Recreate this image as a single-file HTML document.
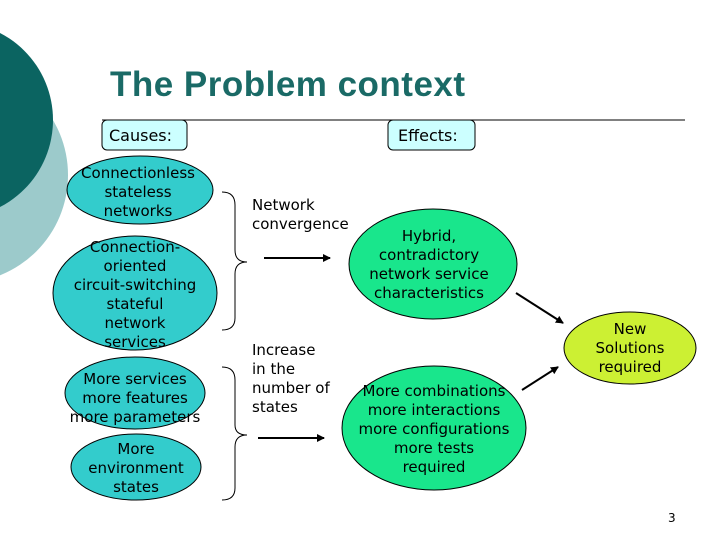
<!DOCTYPE html>
<html><head><style>
body{margin:0;width:720px;height:540px;overflow:hidden;background:#fff;}
text{font-family:"DejaVu Sans",sans-serif;font-size:15px;fill:#000;}
</style></head><body>
<svg width="720" height="540" viewBox="0 0 720 540">
<defs><marker id="a" markerWidth="8" markerHeight="8" refX="7" refY="4" orient="auto" markerUnits="userSpaceOnUse"><path d="M0,0 L8,4 L0,8 z" fill="#000"/></marker></defs>
<circle cx="-40" cy="175" r="108" fill="#9ccacb"/>
<circle cx="-45" cy="120" r="98" fill="#0b6461"/>
<text x="110" y="96" style="font-family:'Liberation Sans',sans-serif;font-size:35px;font-weight:bold;fill:#1a6a66" textLength="355">The Problem context</text>
<line x1="102" y1="120" x2="685" y2="120" stroke="#000" stroke-width="1"/>
<rect x="102" y="120" width="85" height="30" rx="5" fill="#ccffff" stroke="#000"/>
<text x="109" y="141" style="font-size:16px">Causes:</text>
<rect x="388" y="120" width="87" height="30" rx="5" fill="#ccffff" stroke="#000"/>
<text x="398" y="141" style="font-size:16px">Effects:</text>
<g fill="#33cccc" stroke="#000">
<ellipse cx="140" cy="190" rx="73" ry="34"/>
<ellipse cx="135" cy="293" rx="82" ry="57"/>
<ellipse cx="135" cy="393" rx="70" ry="36"/>
<ellipse cx="136" cy="467" rx="65" ry="33"/>
</g>
<g text-anchor="middle">
<text x="138" y="178">Connectionless</text><text x="138" y="197">stateless</text><text x="138" y="216">networks</text>
<text x="135" y="252">Connection-</text><text x="135" y="271">oriented</text><text x="135" y="290">circuit-switching</text><text x="135" y="309">stateful</text><text x="135" y="328">network</text><text x="135" y="347">services</text>
<text x="135" y="384">More services</text><text x="135" y="403">more features</text><text x="135" y="422">more parameters</text>
<text x="136" y="454">More</text><text x="136" y="473">environment</text><text x="136" y="492">states</text>
</g>
<g fill="none" stroke="#000" stroke-width="1">
<path d="M222,192 Q235,192 235,205 L235,250 Q235,262 247,262 Q235,262 235,274 L235,318 Q235,330 222,330"/>
<path d="M222,367 Q235,367 235,380 L235,425 Q235,435 247,435 Q235,435 235,447 L235,488 Q235,500 222,500"/>
</g>
<text x="252" y="210">Network</text><text x="252" y="229">convergence</text>
<text x="252" y="355">Increase</text><text x="252" y="374">in the</text><text x="252" y="393">number of</text><text x="252" y="412">states</text>
<g stroke="#000" stroke-width="2" marker-end="url(#a)">
<line x1="264" y1="258" x2="330" y2="258"/>
<line x1="258" y1="438" x2="324" y2="438"/>
<line x1="516" y1="293" x2="563" y2="323"/>
<line x1="522" y1="390" x2="558" y2="367"/>
</g>
<ellipse cx="433" cy="264" rx="84" ry="55" fill="#19e68c" stroke="#000"/>
<ellipse cx="434" cy="428" rx="92" ry="62" fill="#19e68c" stroke="#000"/>
<ellipse cx="630" cy="348" rx="66" ry="36" fill="#ccf033" stroke="#000"/>
<g text-anchor="middle">
<text x="429" y="241">Hybrid,</text><text x="429" y="260">contradictory</text><text x="429" y="279">network service</text><text x="429" y="298">characteristics</text>
<text x="434" y="396">More combinations</text><text x="434" y="415">more interactions</text><text x="434" y="434">more configurations</text><text x="434" y="453">more tests</text><text x="434" y="472">required</text>
<text x="630" y="334">New</text><text x="630" y="353">Solutions</text><text x="630" y="372">required</text>
</g>
<text x="668" y="522" style="font-size:12px">3</text>
</svg>
</body></html>
